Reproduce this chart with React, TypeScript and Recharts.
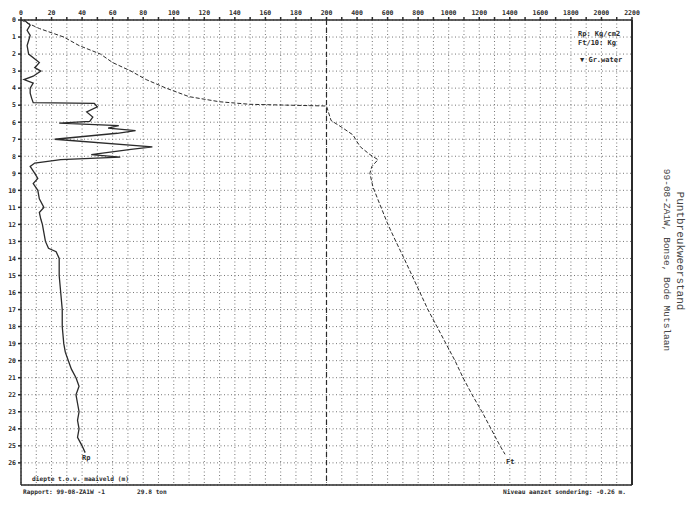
import { CartesianGrid, ReferenceLine, Scatter, ScatterChart, XAxis, YAxis } from "recharts";

// Rp (kg/cm2) against depth (m)
const rpDepth = [0, 0.3, 0.6, 0.9, 1.2, 1.5, 2.0, 2.5, 2.8, 3.0, 3.3, 3.5, 3.7, 4.0, 4.3, 4.6, 4.85, 4.9, 5.1, 5.4, 5.7, 5.95, 6.05, 6.2, 6.35, 6.5, 6.65, 7.0, 7.45, 7.6, 7.9, 8.05, 8.2, 8.4, 8.6, 9.0, 9.3, 9.6, 10.0, 10.5, 11.0, 11.3, 11.7, 12.0, 12.5, 13.0, 13.4, 13.6, 14.0, 15.0, 16.0, 17.0, 18.0, 19.0, 19.5, 20.0, 20.5, 21.0, 21.5, 22.0, 22.5, 23.0, 23.5, 24.0, 24.5, 25.0, 25.4];
const rpValue = [2, 6, 4, 6, 5, 4, 5, 12, 9, 13, 8, 2, 8, 6, 6, 7, 8, 48, 50, 43, 47, 45, 25, 64, 57, 75, 63, 22, 86, 72, 46, 65, 26, 9, 6, 9, 11, 8, 11, 12, 15, 12, 13, 14, 15, 16, 18, 23, 25, 25, 26, 27, 27, 28, 29, 31, 33, 36, 38, 36, 37, 38, 37, 38, 37, 40, 42];

// Ft/10 (kg) against depth (m)
const ftDepth = [0, 0.5, 1.0, 1.5, 2.0, 2.5, 3.0, 3.5, 4.0, 4.5, 4.8, 4.95, 5.05, 5.9, 6.3, 6.75, 7.15, 7.45, 7.9, 8.2, 8.6, 9.0, 9.8, 10.55, 12, 13, 14, 15, 16, 17, 18, 19, 20, 21, 22, 23, 24, 25, 25.5];
const ftValue = [0, 12, 28, 38, 52, 60, 72, 82, 95, 110, 130, 150, 200, 230, 300, 374, 400, 422, 484, 537, 497, 484, 504, 537, 602, 654, 708, 760, 812, 864, 923, 982, 1041, 1094, 1153, 1218, 1277, 1336, 1369];

const topLabels = ["0", "20", "40", "60", "80", "100", "120", "140", "160", "180", "200", "400", "600", "800", "1000", "1200", "1400", "1600", "1800", "2000", "2200"];
const depthTicks = [0, 1, 2, 3, 4, 5, 6, 7, 8, 9, 10, 11, 12, 13, 14, 15, 16, 17, 18, 19, 20, 21, 22, 23, 24, 25, 26];

// top scale: 20 per division up to 200, then 200 per division
const toGrid = (v: number) => (v <= 200 ? v / 20 : 10 + (v - 200) / 200);

const rpPoints = rpDepth.map((d, i) => ({ d, x: toGrid(rpValue[i]) }));
const ftPoints = ftDepth.map((d, i) => ({ d, x: toGrid(ftValue[i]) }));
const xTicks = Array.from({ length: 41 }, (_, i) => i / 2);

const ink = "#2b2b2b";
const mono = "'DejaVu Sans Mono', monospace";
const small = { fontFamily: mono, fontSize: 6.5, fontWeight: 700, fill: ink } as const;

const txt = (left: number, top: number, s: string, size = 6.5) => (
  <div
    style={{
      position: "absolute",
      left,
      top,
      fontFamily: mono,
      fontSize: size,
      fontWeight: 700,
      color: ink,
      whiteSpace: "nowrap",
      lineHeight: 1,
    }}
  >
    {s}
  </div>
);

export default function App() {
  return (
    <div style={{ position: "absolute", left: 0, top: 0, width: 694, height: 506, background: "#fff" }}>
      <ScatterChart width={694} height={506} margin={{ top: 0, right: 62, bottom: 21, left: 0 }}>
        <CartesianGrid stroke="#666" strokeDasharray="1 2.5" strokeWidth={0.9} />
        <XAxis
          type="number"
          dataKey="x"
          orientation="top"
          domain={[0, 20]}
          ticks={xTicks}
          interval={0}
          height={20}
          tickSize={3}
          stroke={ink}
          strokeWidth={1.5}
          tick={small}
          tickFormatter={(v: number) => (Number.isInteger(v) ? topLabels[v] : "")}
        />
        <YAxis
          type="number"
          dataKey="d"
          reversed
          domain={[0, 27.3]}
          ticks={depthTicks}
          interval={0}
          width={21}
          tickSize={3}
          stroke={ink}
          strokeWidth={1.5}
          tick={small}
        />
        <ReferenceLine x={10} stroke={ink} strokeWidth={1.2} strokeDasharray="5 3" />
        <ReferenceLine x={20} stroke={ink} strokeWidth={2} />
        <ReferenceLine y={27.3} stroke={ink} strokeWidth={1.5} />
        <Scatter
          data={ftPoints}
          fill={ink}
          line={{ stroke: ink, strokeWidth: 1, strokeDasharray: "4 2" }}
          shape={() => <g />}
          isAnimationActive={false}
        />
        <Scatter
          data={rpPoints}
          fill={ink}
          line={{ stroke: ink, strokeWidth: 1.3 }}
          shape={() => <g />}
          isAnimationActive={false}
        />
      </ScatterChart>

      {txt(578, 31, "Rp: Kg/cm2", 7)}
      {txt(578, 40, "Ft/10: Kg", 7)}
      {txt(580, 57, "\u25BC Gr.water", 7)}
      {txt(82, 455, "Rp", 7)}
      {txt(506, 459, "Ft", 7)}
      {txt(32, 476, "diepte t.o.v. maaiveld (m)", 6.2)}
      {txt(23, 489, "Rapport: 99-08-ZA1W -1", 6.2)}
      {txt(137, 489, "29.8 ton", 6.2)}
      {txt(503, 489, "Niveau aanzet sondering: -0.26 m.", 6.2)}

      <div
        style={{
          position: "absolute",
          left: 680,
          top: 251,
          transform: "translate(-50%, -50%) rotate(90deg)",
          fontFamily: "'Liberation Mono', monospace",
          fontSize: 11,
          color: "#444",
          whiteSpace: "nowrap",
        }}
      >
        Puntbreukweerstand
      </div>
      <div
        style={{
          position: "absolute",
          left: 666,
          top: 260,
          transform: "translate(-50%, -50%) rotate(90deg)",
          fontFamily: "'Liberation Mono', monospace",
          fontSize: 9.5,
          color: "#444",
          whiteSpace: "nowrap",
        }}
      >
        99-08-ZA1W, Bonse, Bode Mutslaan
      </div>
    </div>
  );
}
